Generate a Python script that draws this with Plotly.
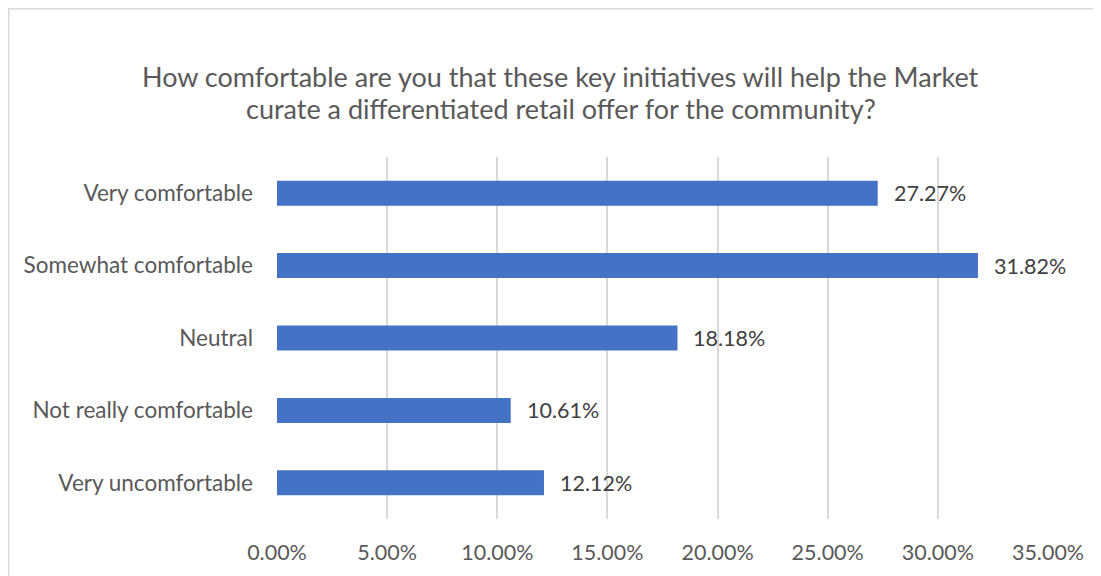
import plotly.graph_objects as go

categories = ["Very comfortable", "Somewhat comfortable", "Neutral",
              "Not really comfortable", "Very uncomfortable"]
values = [27.27, 31.82, 18.18, 10.61, 12.12]
tick_vals = [0, 5, 10, 15, 20, 25, 30, 35]
tick_text = ["0.00%", "5.00%", "10.00%", "15.00%", "20.00%", "25.00%", "30.00%", "35.00%"]
title_lines = ["How comfortable are you that these key initiatives will help the Market",
               "curate a differentiated retail offer for the community?"]

FONT = "Lato"

fig = go.Figure()
fig.add_trace(go.Bar(
    x=values, y=categories, orientation="h",
    marker=dict(color="#4472C4", line=dict(width=0)),
    width=0.345, hoverinfo="skip",
))

for c, v in zip(categories, values):
    fig.add_annotation(x=v, y=c, xref="x", yref="y", text=f"{v:.2f}%",
                       showarrow=False, xanchor="left", xshift=14,
                       font=dict(family=FONT, size=21.5, color="#404040"))

for line, ypos in zip(title_lines, [1.221, 1.135]):
    fig.add_annotation(x=0.368, y=ypos, xref="paper", yref="paper", text=line,
                       showarrow=False, xanchor="center", yanchor="middle",
                       font=dict(family=FONT, size=27, color="#595959"))

fig.add_shape(type="rect", xref="paper", yref="paper",
              x0=-0.3479, x1=1.09, y0=-0.3, y1=1.4095,
              line=dict(color="#D9D9D9", width=1.5), fillcolor="rgba(0,0,0,0)",
              layer="below")

fig.update_layout(
    width=1101, height=576,
    margin=dict(l=269, r=61, t=149, b=65),
    paper_bgcolor="white", plot_bgcolor="white",
    showlegend=False,
    xaxis=dict(range=[0, 35], tickvals=tick_vals, ticktext=tick_text,
               showgrid=True, gridcolor="#D9D9D9", gridwidth=1.5,
               zeroline=False, showline=False, ticks="",
               ticklabelstandoff=18,
               tickfont=dict(family=FONT, size=21.5, color="#595959")),
    yaxis=dict(categoryorder="array", categoryarray=categories[::-1],
               showgrid=False, zeroline=False, showline=False, ticks="",
               ticklabelstandoff=23,
               tickfont=dict(family=FONT, size=22.5, color="#595959")),
)

fig.write_html("out.html")
